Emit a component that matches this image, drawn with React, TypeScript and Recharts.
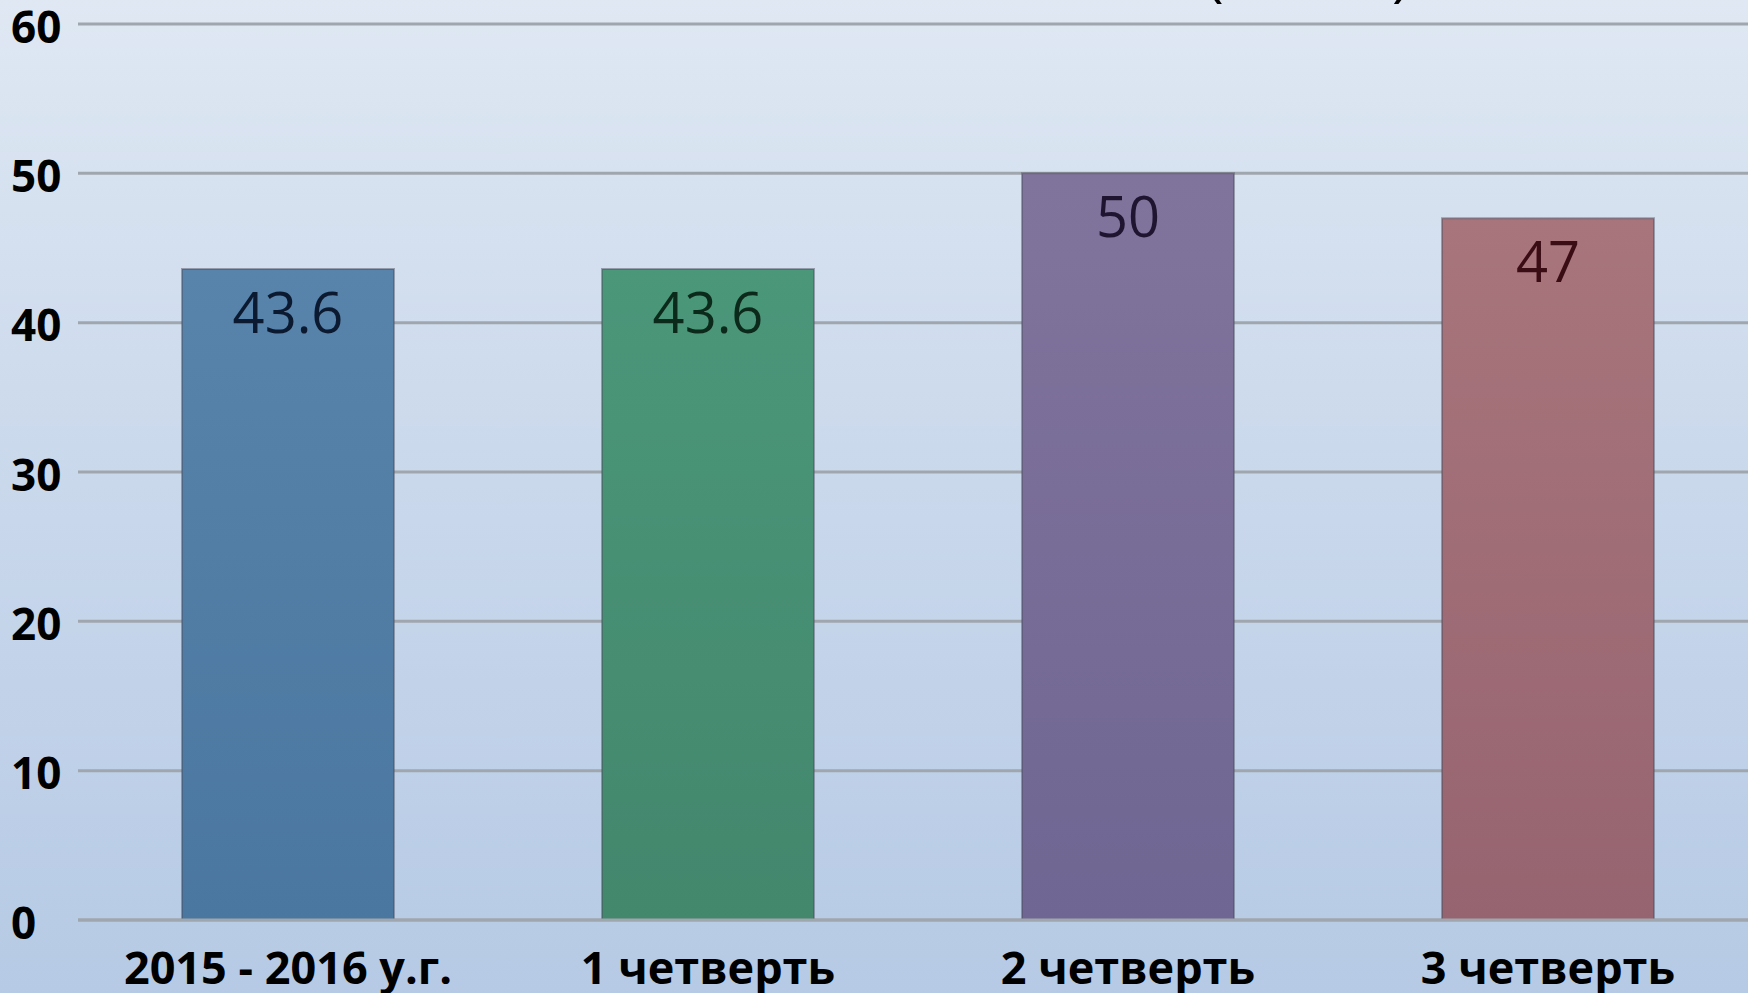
import React from "react";
import { BarChart, Bar, XAxis, YAxis, CartesianGrid, Cell, LabelList } from "recharts";

const categories = ["2015 - 2016 у.г.", "1 четверть", "2 четверть", "3 четверть"];
const values = [43.6, 43.6, 50, 47];
const yTicks = [0, 10, 20, 30, 40, 50, 60];

const barTop = ["#5883aa", "#4b977a", "#81749c", "#a8757c"];
const barBottom = ["#4a77a0", "#43876d", "#6f6693", "#966470"];
const labelColors = ["#0b1a30", "#0c2a1c", "#1f1530", "#3a0c14"];

const data = categories.map((name, i) => ({ name, value: values[i] }));

const FONT = "'Open Sans', 'DejaVu Sans', sans-serif";

const renderLabel = (props: any) => {
  const { x, y, width, value, index } = props;
  return (
    <text
      x={Number(x) + Number(width) / 2}
      y={Number(y) + 64}
      textAnchor="middle"
      fontFamily={FONT}
      fontSize={56}
      fontWeight={500}
      fill={labelColors[index] || "#111"}
    >
      {value}
    </text>
  );
};

const renderYTick = (props: any) => {
  const { y, payload } = props;
  return (
    <text
      x={11}
      y={Number(y) + 3}
      dy="0.355em"
      textAnchor="start"
      fontFamily={FONT}
      fontSize={44}
      fontWeight={700}
      fill="#000"
    >
      {payload.value}
    </text>
  );
};

export default function App() {
  return (
    <div
      style={{
        position: "fixed",
        left: 0,
        top: 0,
        width: 1748,
        height: 993,
        overflow: "hidden",
        background: "linear-gradient(to bottom, #dfe8f3 0%, #cbd9ec 45%, #b6cae5 100%)",
      }}
    >
      <svg
        width={1748}
        height={40}
        style={{ position: "absolute", left: 0, top: 0 }}
      >
        <text x={1206} y={-6} fontFamily={FONT} fontSize={60} fill="#000">(</text>
        <text x={1392} y={-6} fontFamily={FONT} fontSize={60} fill="#000">)</text>
      </svg>
      <div style={{ position: "absolute", left: 0, top: 0 }}>
        <BarChart
          width={1760}
          height={993}
          data={data}
          margin={{ top: 24, right: 2, left: 0, bottom: 0 }}
        >
          <defs>
            {barTop.map((c, i) => (
              <linearGradient key={i} id={`g${i}`} x1="0" y1="0" x2="0" y2="1">
                <stop offset="0%" stopColor={c} />
                <stop offset="100%" stopColor={barBottom[i]} />
              </linearGradient>
            ))}
          </defs>
          <CartesianGrid vertical={false} stroke="#a0a6ae" strokeWidth={3} />
          <XAxis
            dataKey="name"
            height={73}
            tickSize={0}
            tickMargin={32}
            axisLine={{ stroke: "#a0a6ae", strokeWidth: 3 }}
            tickLine={false}
            interval={0}
            tick={{ fontFamily: FONT, fontSize: 45, fontWeight: 700, fill: "#000" }}
          />
          <YAxis
            width={78}
            domain={[0, 60]}
            ticks={yTicks}
            tickSize={0}
            tickMargin={16}
            axisLine={false}
            tickLine={false}
            interval={0}
            tick={renderYTick}
          />
          <Bar
            dataKey="value"
            barSize={212}
            isAnimationActive={false}
            stroke="rgba(70,75,90,0.45)"
            strokeWidth={2}
          >
            {data.map((_, i) => (
              <Cell key={i} fill={`url(#g${i})`} />
            ))}
            <LabelList dataKey="value" content={renderLabel} />
          </Bar>
        </BarChart>
      </div>
    </div>
  );
}
